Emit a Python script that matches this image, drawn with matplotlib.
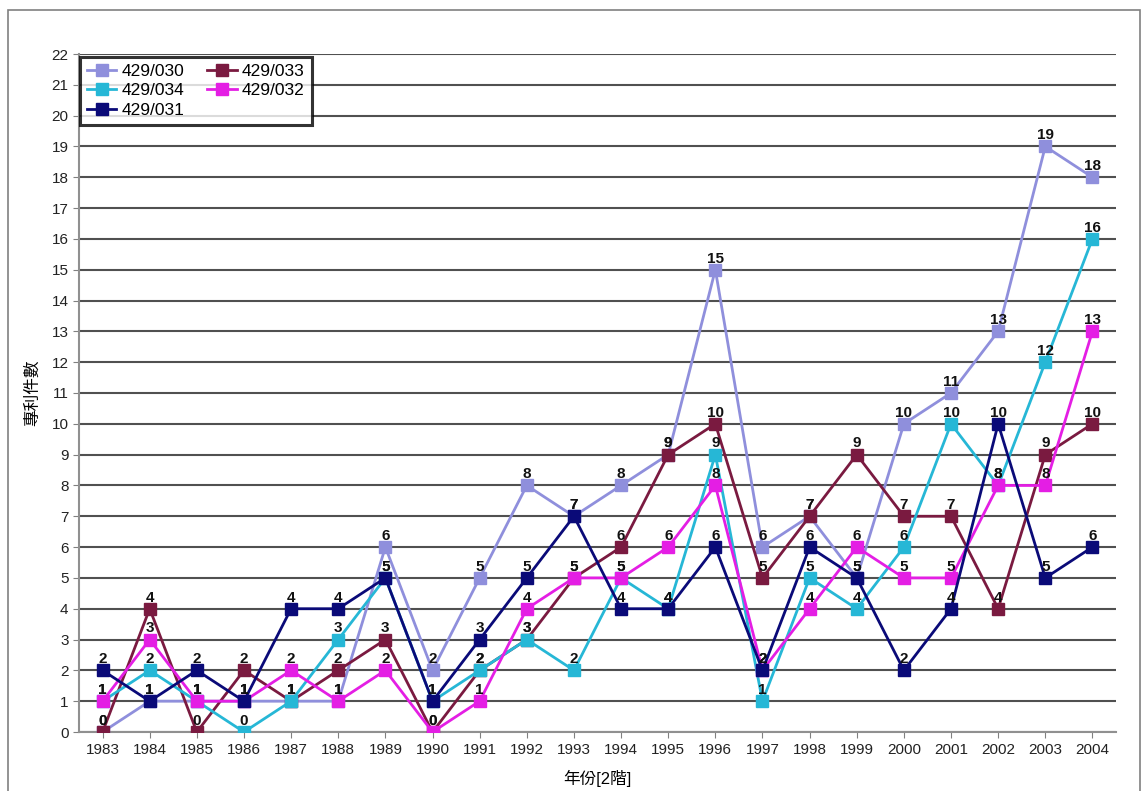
import numpy as np
import matplotlib
matplotlib.use("Agg")
import matplotlib.pyplot as plt
from matplotlib.patches import Rectangle

plt.rcParams['font.family'] = ['Liberation Sans', 'Noto Sans CJK TC', 'DejaVu Sans']

# data
years = [str(y) for y in range(1983, 2005)]
s030 = [0, 1, 1, 1, 1, 1, 6, 2, 5, 8, 7, 8, 9, 15, 6, 7, 5, 10, 11, 13, 19, 18]
s033 = [0, 4, 0, 2, 1, 2, 3, 0, 2, 3, 5, 6, 9, 10, 5, 7, 9, 7, 7, 4, 9, 10]
s034 = [1, 2, 1, 0, 1, 3, 5, 1, 2, 3, 2, 5, 4, 9, 1, 5, 4, 6, 10, 8, 12, 16]
s032 = [1, 3, 1, 1, 2, 1, 2, 0, 1, 4, 5, 5, 6, 8, 2, 4, 6, 5, 5, 8, 8, 13]
s031 = [2, 1, 2, 1, 4, 4, 5, 1, 3, 5, 7, 4, 4, 6, 2, 6, 5, 2, 4, 10, 5, 6]

names = ['429/030', '429/033', '429/034', '429/032', '429/031']
series = [s030, s033, s034, s032, s031]
colors = ['#8f8fdc', '#7a1a40', '#26b7d6', '#e41ee4', '#0a0a78']

fig = plt.figure(figsize=(11.46, 7.91), dpi=100)
fig.patches.append(Rectangle((8 / 1146, -0.01), 1132 / 1146, 1 - 10 / 791 + 0.01,
                             transform=fig.transFigure, fill=False,
                             edgecolor='#808080', linewidth=1.2))
ax = fig.add_axes([79 / 1146, 1 - 732 / 791, 1037 / 1146, 678 / 791])

x = np.arange(len(years))
handles = {}
for name, vals, c in zip(names, series, colors):
    h, = ax.plot(x, vals, color=c, linewidth=2, marker='s', markersize=8,
                 markeredgecolor=c, label=name, zorder=3)
    handles[name] = h

for vals in series:
    for xi, v in zip(x, vals):
        ax.annotate(str(v), (xi, v), xytext=(0, 3), textcoords='offset points',
                    ha='center', va='bottom', fontsize=11, fontweight='bold',
                    color='#111111', zorder=5)

ax.set_xlim(-0.5, len(years) - 0.5)
ax.set_ylim(0, 22)
ax.set_xticks(x)
ax.set_xticklabels(years)
ax.set_yticks(range(0, 23))
ax.tick_params(axis='both', labelsize=11, length=4, color='#808080', colors='#222222')
ax.tick_params(axis='x', pad=4)
ax.grid(axis='y', color='#505050', linewidth=1.5, zorder=0)
ax.set_axisbelow(True)
for side in ['top', 'right']:
    ax.spines[side].set_visible(False)
for side in ['left', 'bottom']:
    ax.spines[side].set_color('#909090')
    ax.spines[side].set_linewidth(1.5)

ax.set_xlabel('年份[2階]', fontsize=12, labelpad=9)
ax.set_ylabel('專利件數', fontsize=12, labelpad=8)

order = ['429/030', '429/034', '429/031', '429/033', '429/032']
leg = ax.legend([handles[n] for n in order], order, ncol=2, loc='upper left',
                bbox_to_anchor=(0.001, 0.996), borderaxespad=0, fontsize=12.5,
                frameon=True, fancybox=False, edgecolor='black', handlelength=1.7,
                handletextpad=0.3, columnspacing=1.3, labelspacing=0.25,
                borderpad=0.4, markerscale=1.0)
leg.get_frame().set_linewidth(2.2)
leg.set_zorder(10)

fig.savefig('out.png', dpi=100)
